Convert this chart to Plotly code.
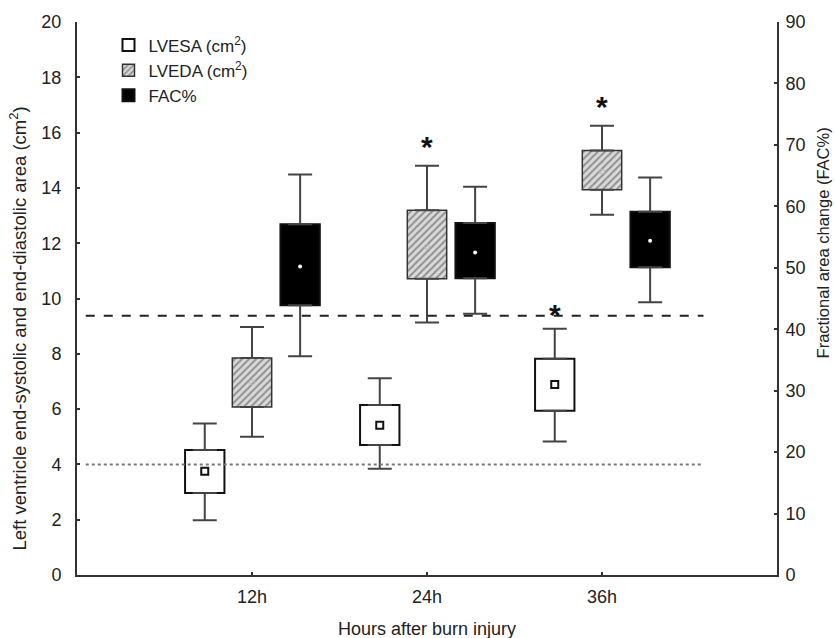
import plotly.graph_objects as go

# Time points after the burn
times = ["12h", "24h", "36h"]

# LVESA (cm²): mean, box limits and whisker limits
lvesa_mean = [3.75, 5.42, 6.89]
lvesa_box_low = [2.97, 4.70, 5.94]
lvesa_box_high = [4.52, 6.15, 7.82]
lvesa_whisk_low = [1.98, 3.84, 4.83]
lvesa_whisk_high = [5.48, 7.12, 8.91]

# LVEDA (cm²)
lveda_mean = [6.98, 11.87, 14.59]
lveda_box_low = [6.08, 10.71, 13.93]
lveda_box_high = [7.85, 13.19, 15.35]
lveda_whisk_low = [5.00, 9.13, 13.03]
lveda_whisk_high = [8.97, 14.80, 16.25]

# FAC (%) on the right axis
fac_mean = [50.2, 52.5, 54.4]
fac_box_low = [43.9, 48.3, 50.1]
fac_box_high = [57.1, 57.3, 59.1]
fac_whisk_low = [35.6, 42.5, 44.4]
fac_whisk_high = [65.2, 63.2, 64.7]

# Significance flags (asterisks)
lvesa_signif = [False, False, True]
lveda_signif = [False, True, True]
fac_signif = [False, False, False]

# Reference levels
lvesa_ref = 4.0   # cm², left axis (dotted)
fac_ref = 42.2    # %, right axis (dashed)

FONT = "Liberation Sans, Arial, sans-serif"
TXT = "#222222"
AX = "#333333"
BOX_W = 0.225

centers = [i + 1 for i in range(len(times))]

series = [
    dict(name="LVESA (cm<sup>2</sup>)", dx=-0.27, yaxis="y",
         mean=lvesa_mean, bl=lvesa_box_low, bh=lvesa_box_high,
         wl=lvesa_whisk_low, wh=lvesa_whisk_high, sig=lvesa_signif,
         fill="white", pattern=None, star_shift=14,
         mk=dict(symbol="square", size=7, color="white",
                 line=dict(color="#111", width=2))),
    dict(name="LVEDA (cm<sup>2</sup>)", dx=0.0, yaxis="y",
         mean=lveda_mean, bl=lveda_box_low, bh=lveda_box_high,
         wl=lveda_whisk_low, wh=lveda_whisk_high, sig=lveda_signif,
         fill="#d9d9d9", star_shift=19,
         pattern=dict(shape="/", fgcolor="#444444", bgcolor="#dadada",
                      size=5, solidity=0.4),
         mk=dict(symbol="circle-open", size=5, color="#bbbbbb",
                 line=dict(width=1))),
    dict(name="FAC%", dx=0.275, yaxis="y2",
         mean=fac_mean, bl=fac_box_low, bh=fac_box_high,
         wl=fac_whisk_low, wh=fac_whisk_high, sig=fac_signif,
         fill="black", pattern=None, star_shift=16,
         mk=dict(symbol="circle", size=4, color="white")),
]

fig = go.Figure()
annotations = []

for s in series:
    xs = [c + s["dx"] for c in centers]
    marker = dict(color=s["fill"], line=dict(color="#111", width=2))
    if s["pattern"] is not None:
        marker["pattern"] = s["pattern"]
        marker["line"] = dict(color="#333", width=1.5)
    # Box: bar from lower to upper box limit
    fig.add_trace(go.Bar(
        x=xs, base=s["bl"], y=[h - l for h, l in zip(s["bh"], s["bl"])],
        width=BOX_W, marker=marker, name=s["name"], yaxis=s["yaxis"],
        showlegend=True,
    ))
    # Upper whisker from box top
    fig.add_trace(go.Scatter(
        x=xs, y=s["bh"], mode="markers", yaxis=s["yaxis"], showlegend=False,
        marker=dict(size=1, color="rgba(0,0,0,0)"),
        error_y=dict(type="data", symmetric=False,
                     array=[w - b for w, b in zip(s["wh"], s["bh"])],
                     arrayminus=[0] * len(xs),
                     color="#444", thickness=2, width=12),
    ))
    # Lower whisker from box bottom
    fig.add_trace(go.Scatter(
        x=xs, y=s["bl"], mode="markers", yaxis=s["yaxis"], showlegend=False,
        marker=dict(size=1, color="rgba(0,0,0,0)"),
        error_y=dict(type="data", symmetric=False,
                     array=[0] * len(xs),
                     arrayminus=[b - w for w, b in zip(s["wl"], s["bl"])],
                     color="#444", thickness=2, width=12),
    ))
    # Mean marker
    fig.add_trace(go.Scatter(
        x=xs, y=s["mean"], mode="markers", yaxis=s["yaxis"], showlegend=False,
        marker=s["mk"],
    ))
    for x, w, sg in zip(xs, s["wh"], s["sig"]):
        if sg:
            annotations.append(dict(
                x=x, y=w, xref="x", yref=s["yaxis"], text="<b>*</b>",
                showarrow=False, yanchor="middle", yshift=s["star_shift"],
                font=dict(family=FONT, size=30, color="#111"),
            ))

# Reference lines
fig.add_shape(type="line", xref="x", yref="y", x0=0.05, x1=3.58,
              y0=lvesa_ref, y1=lvesa_ref,
              line=dict(color="#777", width=2, dash="dot"))
fig.add_shape(type="line", xref="x", yref="y2", x0=0.05, x1=3.58,
              y0=fac_ref, y1=fac_ref,
              line=dict(color="#222", width=2, dash="dash"))

# Axis titles
annotations.append(dict(
    x=-0.084, y=0.446, xref="paper", yref="paper", textangle=-90,
    xanchor="center", yanchor="middle",
    text="Left ventricle end-systolic and end-diastolic area (cm<sup>2</sup>)",
    showarrow=False, font=dict(family=FONT, size=18.5, color=TXT),
))
annotations.append(dict(
    x=1.066, y=0.6, xref="paper", yref="paper", textangle=-90,
    xanchor="center", yanchor="middle",
    text="Fractional area change (FAC%)",
    showarrow=False, font=dict(family=FONT, size=16.5, color=TXT),
))
annotations.append(dict(
    x=0.5, y=-0.097, xref="paper", yref="paper", yanchor="middle",
    xanchor="center",
    text="Hours after burn injury",
    showarrow=False, font=dict(family=FONT, size=18, color=TXT),
))

axis_common = dict(
    showline=True, linecolor=AX, linewidth=2, showgrid=False, zeroline=False,
    ticks="inside", ticklen=3, tickwidth=2, tickcolor=AX,
    tickfont=dict(family=FONT, size=18, color=TXT),
)

fig.update_layout(
    width=835, height=638,
    margin=dict(l=77, r=58, t=19, b=63),
    paper_bgcolor="white", plot_bgcolor="white",
    barmode="overlay",
    annotations=annotations,
    xaxis=dict(range=[0, 4], tickvals=centers, ticktext=times,
               ticklabelstandoff=4, **axis_common),
    yaxis=dict(range=[0, 20], dtick=2, ticklabelstandoff=10, **axis_common),
    yaxis2=dict(range=[0, 90], dtick=10, overlaying="y", side="right",
                ticklabelstandoff=3, **axis_common),
    legend=dict(x=0.045, y=0.99, xanchor="left", yanchor="top",
                bgcolor="rgba(0,0,0,0)", itemwidth=30,
                font=dict(family=FONT, size=17, color=TXT),
                tracegroupgap=0),
)

fig.write_html("out.html")
